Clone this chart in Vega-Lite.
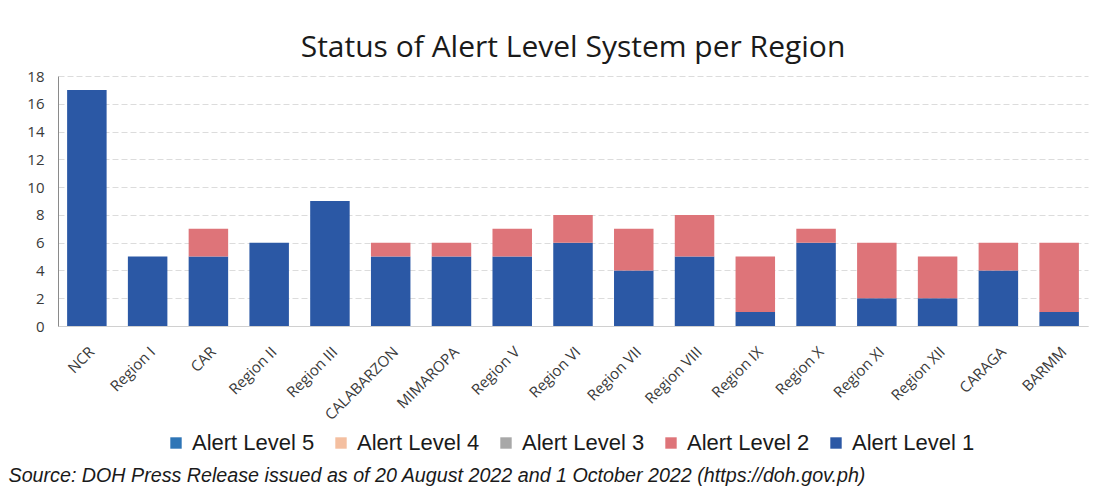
{
  "$schema": "https://vega.github.io/schema/vega-lite/v6.json",
  "width": 1030,
  "height": 250,
  "autosize": {"type": "none"},
  "padding": {"left": 58, "top": 76, "right": 32, "bottom": 165},
  "background": "white",
  "title": {
    "text": "Status of Alert Level System per Region",
    "fontSize": 30,
    "font": "Open Sans",
    "fontWeight": "normal",
    "color": "#1a1a1a",
    "offset": 6,
    "anchor": "middle"
  },
  "data": {
    "values": [
      {"region": "NCR", "level": "Alert Level 1", "rank": 1, "count": 17},
      {"region": "Region I", "level": "Alert Level 1", "rank": 1, "count": 5},
      {"region": "CAR", "level": "Alert Level 1", "rank": 1, "count": 5},
      {"region": "CAR", "level": "Alert Level 2", "rank": 2, "count": 2},
      {"region": "Region II", "level": "Alert Level 1", "rank": 1, "count": 6},
      {"region": "Region III", "level": "Alert Level 1", "rank": 1, "count": 9},
      {"region": "CALABARZON", "level": "Alert Level 1", "rank": 1, "count": 5},
      {"region": "CALABARZON", "level": "Alert Level 2", "rank": 2, "count": 1},
      {"region": "MIMAROPA", "level": "Alert Level 1", "rank": 1, "count": 5},
      {"region": "MIMAROPA", "level": "Alert Level 2", "rank": 2, "count": 1},
      {"region": "Region V", "level": "Alert Level 1", "rank": 1, "count": 5},
      {"region": "Region V", "level": "Alert Level 2", "rank": 2, "count": 2},
      {"region": "Region VI", "level": "Alert Level 1", "rank": 1, "count": 6},
      {"region": "Region VI", "level": "Alert Level 2", "rank": 2, "count": 2},
      {"region": "Region VII", "level": "Alert Level 1", "rank": 1, "count": 4},
      {"region": "Region VII", "level": "Alert Level 2", "rank": 2, "count": 3},
      {"region": "Region VIII", "level": "Alert Level 1", "rank": 1, "count": 5},
      {"region": "Region VIII", "level": "Alert Level 2", "rank": 2, "count": 3},
      {"region": "Region IX", "level": "Alert Level 1", "rank": 1, "count": 1},
      {"region": "Region IX", "level": "Alert Level 2", "rank": 2, "count": 4},
      {"region": "Region X", "level": "Alert Level 1", "rank": 1, "count": 6},
      {"region": "Region X", "level": "Alert Level 2", "rank": 2, "count": 1},
      {"region": "Region XI", "level": "Alert Level 1", "rank": 1, "count": 2},
      {"region": "Region XI", "level": "Alert Level 2", "rank": 2, "count": 4},
      {"region": "Region XII", "level": "Alert Level 1", "rank": 1, "count": 2},
      {"region": "Region XII", "level": "Alert Level 2", "rank": 2, "count": 3},
      {"region": "CARAGA", "level": "Alert Level 1", "rank": 1, "count": 4},
      {"region": "CARAGA", "level": "Alert Level 2", "rank": 2, "count": 2},
      {"region": "BARMM", "level": "Alert Level 1", "rank": 1, "count": 1},
      {"region": "BARMM", "level": "Alert Level 2", "rank": 2, "count": 5}
    ]
  },
  "mark": {"type": "bar"},
  "encoding": {
    "x": {
      "field": "region",
      "type": "nominal",
      "sort": null,
      "scale": {"paddingInner": 0.35, "paddingOuter": 0.15},
      "title": "Source: DOH Press Release issued as of 20 August 2022 and 1 October 2022 (https://doh.gov.ph)",
      "axis": {
        "labelAngle": -45,
        "labelFont": "Open Sans",
        "labelFontSize": 15,
        "labelColor": "#3a3a3a",
        "labelPadding": 18,
        "ticks": false,
        "domain": true,
        "domainColor": "#d0d0d0",
        "titleFont": "Liberation Sans",
        "titleFontSize": 19.7,
        "titleFontStyle": "italic",
        "titleFontWeight": "normal",
        "titleColor": "#1a1a1a",
        "titleAnchor": "start",
        "titleAlign": "left",
        "titleBaseline": "alphabetic",
        "titleX": -50,
        "titleY": 155
      }
    },
    "y": {
      "field": "count",
      "type": "quantitative",
      "aggregate": "sum",
      "stack": "zero",
      "scale": {"domain": [0, 18]},
      "title": null,
      "axis": {
        "values": [0, 2, 4, 6, 8, 10, 12, 14, 16, 18],
        "labelFont": "Open Sans",
        "labelFontSize": 15,
        "labelColor": "#3a3a3a",
        "labelPadding": 14,
        "ticks": false,
        "domain": true,
        "domainColor": "#8a8a8a",
        "gridColor": "#dcdcdc",
        "gridDash": [6, 3]
      }
    },
    "color": {
      "field": "level",
      "type": "nominal",
      "scale": {
        "domain": ["Alert Level 5", "Alert Level 4", "Alert Level 3", "Alert Level 2", "Alert Level 1"],
        "range": ["#2E75B6", "#F4BFA0", "#A8A8A8", "#DE7479", "#2B58A5"]
      },
      "legend": {
        "orient": "none",
        "legendX": 107,
        "legendY": 356,
        "direction": "horizontal",
        "columns": 5,
        "title": null,
        "symbolType": "square",
        "symbolSize": 130,
        "symbolStrokeWidth": 0,
        "labelFont": "Liberation Sans",
        "labelFontSize": 22,
        "labelColor": "#1a1a1a",
        "labelOffset": 5,
        "columnPadding": 15,
        "labelLimit": 300
      }
    },
    "order": {"field": "rank", "type": "quantitative", "sort": "ascending"}
  },
  "config": {
    "view": {"stroke": null}
  }
}
